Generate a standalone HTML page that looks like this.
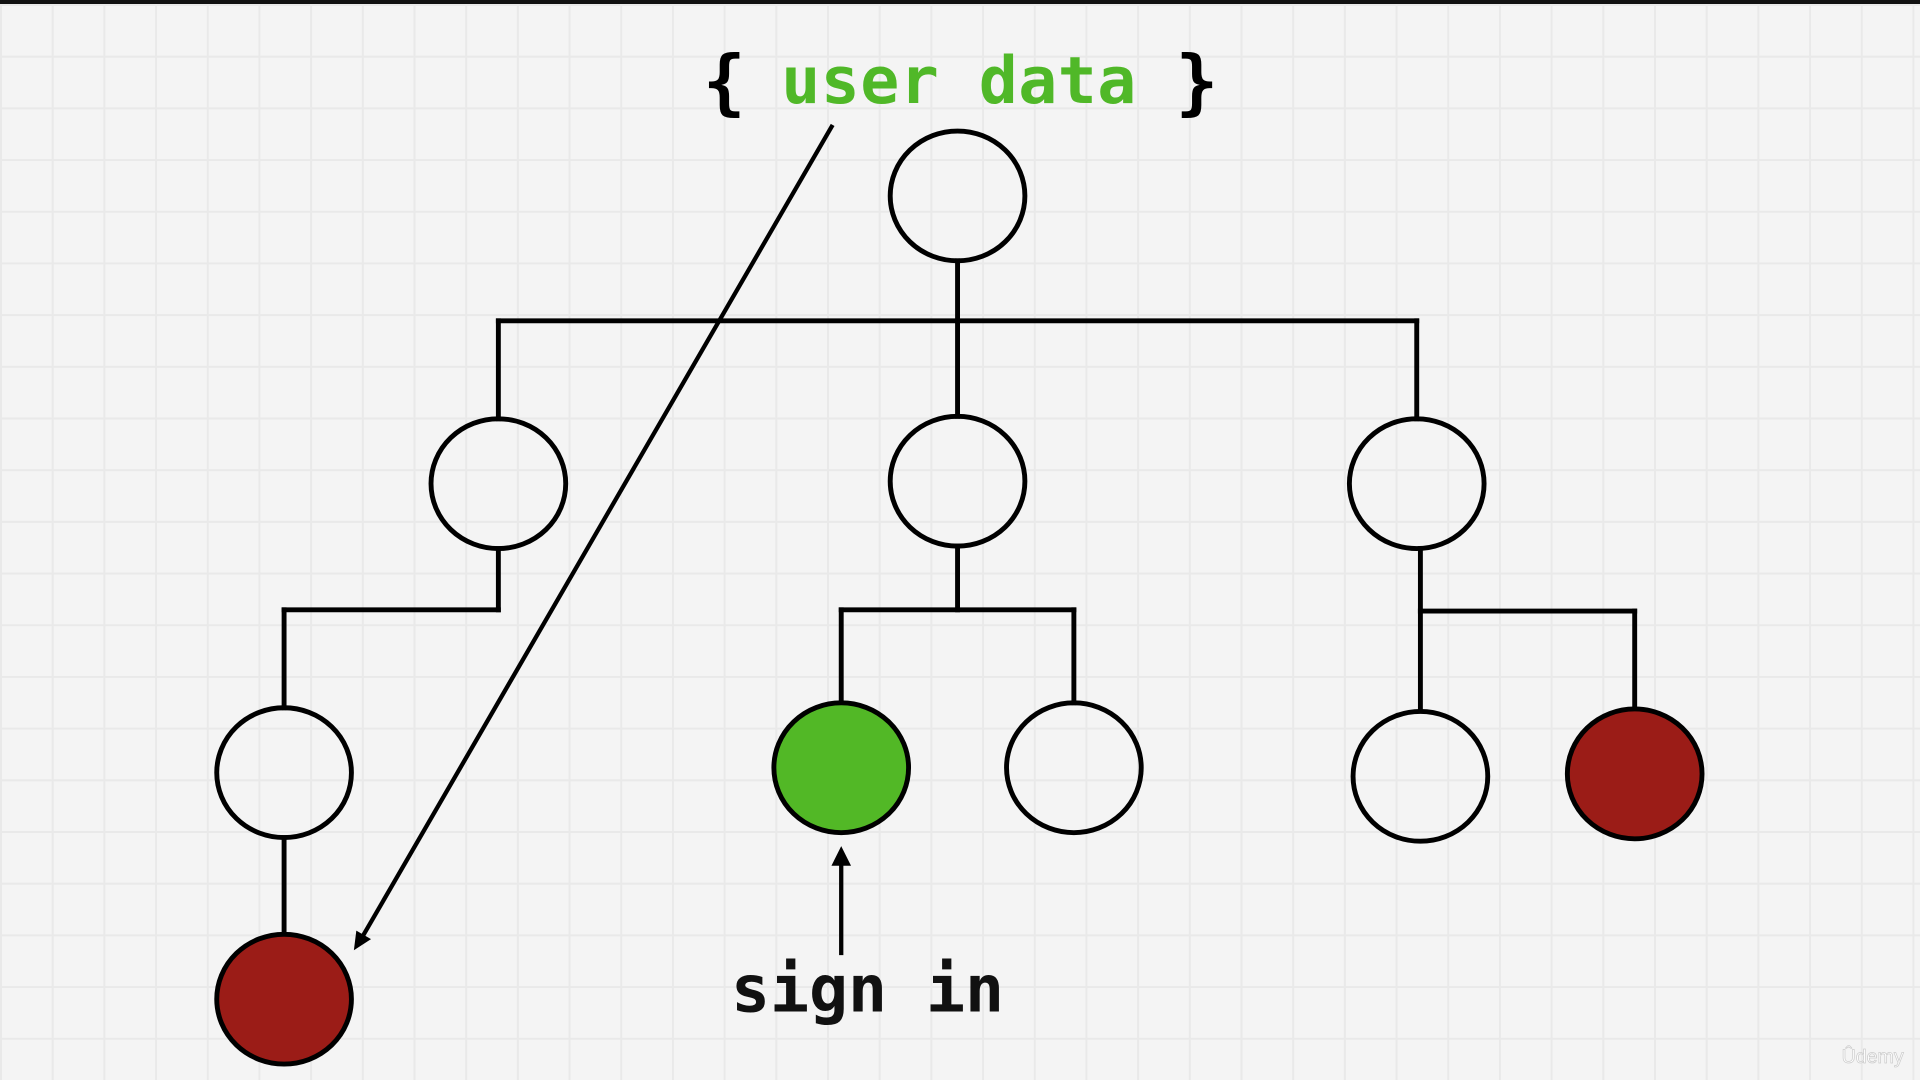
<!DOCTYPE html>
<html><head><meta charset="utf-8"><style>
html,body{margin:0;padding:0;}
body{width:1920px;height:1080px;overflow:hidden;position:relative;
background-color:#f4f4f4;
background-image:linear-gradient(to right,#e9e9e9 0,#e9e9e9 2px,transparent 2px),linear-gradient(to bottom,#e9e9e9 0,#e9e9e9 2px,transparent 2px);
background-size:51.7px 51.7px;background-position:0 4px;}
.top{position:absolute;left:0;top:0;width:1920px;height:4px;background:#111;}
svg{position:absolute;left:0;top:0;}
</style></head><body>
<div class="top"></div>
<svg width="1920" height="1080" viewBox="0 0 1568 882" preserveAspectRatio="none">
<g stroke="#000" stroke-width="4" fill="none" stroke-linecap="square">
<line x1="782" y1="213" x2="782" y2="262"/>
<line x1="407" y1="262" x2="1157" y2="262"/>
<line x1="407" y1="262" x2="407" y2="342"/>
<line x1="782" y1="262" x2="782" y2="340"/>
<line x1="1157" y1="262" x2="1157" y2="342"/>
<line x1="407" y1="448" x2="407" y2="498"/>
<line x1="232" y1="498" x2="407" y2="498"/>
<line x1="232" y1="498" x2="232" y2="578"/>
<line x1="232" y1="684" x2="232" y2="762"/>
<line x1="782" y1="446" x2="782" y2="498"/>
<line x1="687" y1="498" x2="877" y2="498"/>
<line x1="687" y1="498" x2="687" y2="574"/>
<line x1="877" y1="498" x2="877" y2="574"/>
<line x1="1160" y1="448" x2="1160" y2="499"/>
<line x1="1160" y1="499" x2="1335" y2="499"/>
<line x1="1160" y1="499" x2="1160" y2="580"/>
<line x1="1335" y1="499" x2="1335" y2="578"/>
<line x1="680" y1="102" x2="296" y2="765" stroke-width="3.5" stroke-linecap="butt"/>
<line x1="687" y1="780" x2="687" y2="705" stroke-width="3.5" stroke-linecap="butt"/>
</g>
<polygon points="289,776 291,760 303,767" fill="#000"/>
<polygon points="687,691 679,707 695,707" fill="#000"/>
<g stroke="#000" stroke-width="4">
<ellipse cx="782" cy="160" rx="55" ry="53" fill="none"/>
<ellipse cx="407" cy="395" rx="55" ry="53" fill="none"/>
<ellipse cx="782" cy="393" rx="55" ry="53" fill="none"/>
<ellipse cx="1157" cy="395" rx="55" ry="53" fill="none"/>
<ellipse cx="232" cy="631" rx="55" ry="53" fill="none"/>
<ellipse cx="687" cy="627" rx="55" ry="53" fill="#52b826"/>
<ellipse cx="877" cy="627" rx="55" ry="53" fill="none"/>
<ellipse cx="1160" cy="634" rx="55" ry="53" fill="none"/>
<ellipse cx="1335" cy="632" rx="55" ry="53" fill="#9b1c17"/>
<ellipse cx="232" cy="816" rx="55" ry="53" fill="#9b1c17"/>
</g>
<text x="574" y="87" font-family="DejaVu Sans Mono, monospace" font-weight="bold" font-size="58" fill="#000">{</text>
<text x="960" y="87" font-family="DejaVu Sans Mono, monospace" font-weight="bold" font-size="58" fill="#000">}</text>
<text x="638" y="84" font-family="DejaVu Sans Mono, monospace" font-weight="bold" font-size="53" fill="#50b828" textLength="290">user data</text>
<text x="597" y="826" font-family="DejaVu Sans Mono, monospace" font-weight="bold" font-size="53" fill="#111" textLength="223">sign in</text>
<text x="1504" y="868" font-family="Liberation Sans, sans-serif" font-size="16" fill="#fff" stroke="#ccc" stroke-width="0.6">Ûdemy</text>
</svg>
</body></html>
